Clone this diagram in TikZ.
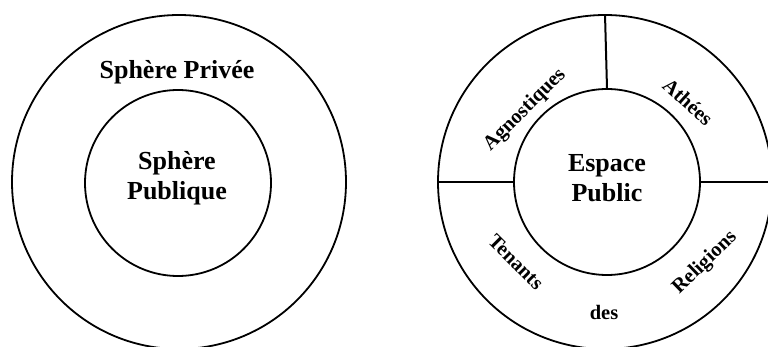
\documentclass[tikz,border=0pt]{standalone}
\usepackage{fontspec}
\setmainfont{Liberation Serif}

\begin{document}
\begin{tikzpicture}[x=1pt,y=-1pt,line width=1.8pt,ring node/.style={circle,draw,inner sep=0pt},big text/.style={font=\bfseries\fontsize{26}{30}\selectfont,align=center},small text/.style={font=\bfseries\fontsize{20.5}{24}\selectfont,inner sep=0pt}]
                \useasboundingbox (0,0) rectangle (768,347);
                \clip (0,0) rectangle (768,347);

                \node[ring node,minimum size=334pt] (prive) at (179,182) {};
                \node[ring node,minimum size=186pt] (publique) at (178,183) {};
                \node[big text] (tprive) at (177,72) {Sphère Privée};
                \node[big text] (tpublique) at (177,178) {Sphère\\Publique};

                \node[ring node,minimum size=334pt] (anneau) at (605,182) {};
                \node[ring node,minimum size=186pt] (espace) at (607,182) {};
                \node[big text] (tespace) at (607,178) {Espace\\Public};

                \path[line width=2pt]
                    (espace.north) edge (anneau.north)
                    (espace.west) edge (anneau.west)
                    (espace.east) edge (anneau.east)
                ;

                \node[small text,rotate=45] (agnostiques) at (525,110) {Agnostiques};
                \node[small text,rotate=-42] (athees) at (688,102) {Athées};
                \node[small text,rotate=-45] (tenants) at (516,262) {Tenants};
                \node[small text] (des) at (604,312) {des};
                \node[small text,rotate=44] (religions) at (705,263) {Religions};

            \end{tikzpicture}
\end{document}
